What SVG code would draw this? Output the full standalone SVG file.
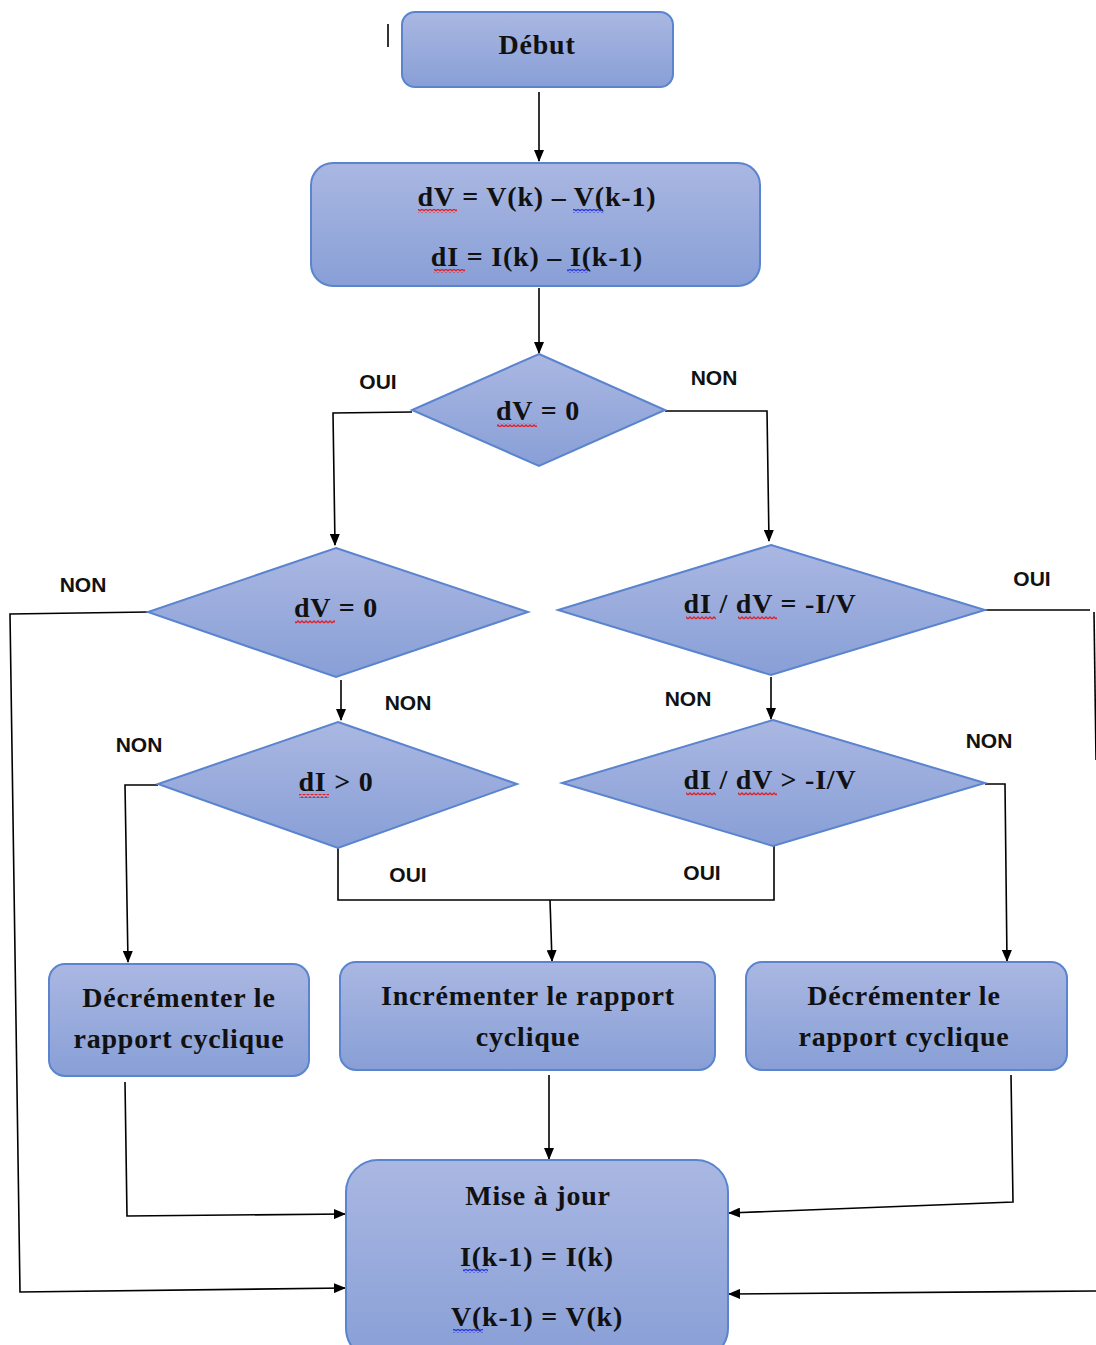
<svg xmlns="http://www.w3.org/2000/svg" width="1096" height="1345" viewBox="0 0 1096 1345">
<defs>
<linearGradient id="g" x1="0" y1="0" x2="0" y2="1">
<stop offset="0" stop-color="#aab7e2"/>
<stop offset="1" stop-color="#889fd6"/>
</linearGradient>
<marker id="a" markerWidth="12" markerHeight="10" refX="11" refY="5" orient="auto" markerUnits="userSpaceOnUse">
<path d="M0 0 L12 5 L0 10 Z" fill="#000"/>
</marker>
<pattern id="wr" width="4" height="4" patternUnits="userSpaceOnUse">
<path d="M0 3 L2 1 L4 3" fill="none" stroke="#e0202a" stroke-width="1.3"/>
</pattern>
<pattern id="wb" width="4" height="4" patternUnits="userSpaceOnUse">
<path d="M0 3 L2 1 L4 3" fill="none" stroke="#2a3ae0" stroke-width="1.3"/>
</pattern>
</defs>
<style>
.n{fill:url(#g);stroke:#5a84cf;stroke-width:2}
.t{font-family:"Liberation Serif","Times New Roman",serif;font-weight:bold;font-size:28px;letter-spacing:0.8px;fill:#111;text-anchor:middle}
.l{font-family:"Liberation Sans",Arial,sans-serif;font-weight:bold;font-size:21px;fill:#111;text-anchor:middle}
.c{fill:none;stroke:#000;stroke-width:1.6}
.ca{fill:none;stroke:#000;stroke-width:1.6;marker-end:url(#a)}
</style>
<rect width="1096" height="1345" fill="#fff"/>
<line x1="388" y1="24" x2="388" y2="47" stroke="#000" stroke-width="1.6"/>

<g id="connectors">
<path class="ca" d="M539 92 L539 161"/>
<path class="ca" d="M539 288 L539 353"/>
<path class="ca" d="M412 412 L333 413 L335 545"/>
<path class="ca" d="M665 411 L767 411 L769 541"/>
<path class="ca" d="M148 612 L10 614 L20 1292 L345 1288"/>
<path class="ca" d="M341 680 L341 720"/>
<path class="ca" d="M158 785 L125 785 L128 962"/>
<path class="c" d="M338 848 L338 900 L774 900 L774 845"/>
<path class="ca" d="M550 900 L552 961"/>
<path class="c" d="M985 610 L1090 610"/>
<path class="c" d="M1094 612 L1096 760"/>
<path class="ca" d="M771 677 L771 719"/>
<path class="ca" d="M985 784 L1005 784 L1007 961"/>
<path class="ca" d="M125 1082 L127 1216 L345 1214"/>
<path class="ca" d="M549 1075 L549 1159"/>
<path class="ca" d="M1011 1075 L1013 1202 L729 1213"/>
<path class="ca" d="M1096 1291 L729 1294"/>
</g>

<g id="labels">
<text class="l" x="378" y="389">OUI</text>
<text class="l" x="714" y="385">NON</text>
<text class="l" x="83" y="592">NON</text>
<text class="l" x="1032" y="586">OUI</text>
<text class="l" x="408" y="710">NON</text>
<text class="l" x="688" y="706">NON</text>
<text class="l" x="139" y="752">NON</text>
<text class="l" x="989" y="748">NON</text>
<text class="l" x="408" y="882">OUI</text>
<text class="l" x="702" y="880">OUI</text>
</g>

<g id="debut">
<rect class="n" x="402" y="12" width="271" height="75" rx="13"/>
<text class="t" x="537" y="54">Début</text>
</g>

<g id="calcul">
<rect class="n" x="311" y="163" width="449" height="123" rx="22"/>
<text class="t" x="537" y="206">dV = V(k) – V(k-1)</text>
<text class="t" x="537" y="266">dI = I(k) – I(k-1)</text>
<rect x="418" y="209" width="39" height="4" fill="url(#wr)"/>
<rect x="573" y="209" width="30" height="4" fill="url(#wb)"/>
<rect x="434" y="269" width="31" height="4" fill="url(#wr)"/>
<rect x="567" y="269" width="21" height="4" fill="url(#wb)"/>
</g>

<g id="test1">
<polygon class="n" points="539,354 665,410 539,466 412,410"/>
<text class="t" x="538" y="420">dV = 0</text>
<rect x="497" y="423" width="40" height="4" fill="url(#wr)"/>
</g>

<g id="test2">
<polygon class="n" points="336,548 528,612 336,677 148,612"/>
<text class="t" x="336" y="617">dV = 0</text>
<rect x="295" y="620" width="40" height="4" fill="url(#wr)"/>
</g>

<g id="test3">
<polygon class="n" points="338,722 517,784 338,848 158,784"/>
<text class="t" x="336" y="791">dI &gt; 0</text>
<rect x="299" y="794" width="30" height="4" fill="url(#wr)"/>
</g>

<g id="test4">
<polygon class="n" points="771,545 985,610 771,675 558,610"/>
<text class="t" x="770" y="613">dI / dV = -I/V</text>
<rect x="686" y="616" width="30" height="4" fill="url(#wr)"/>
<rect x="738" y="616" width="39" height="4" fill="url(#wr)"/>
</g>

<g id="test5">
<polygon class="n" points="773,720 985,783 773,846 562,783"/>
<text class="t" x="770" y="789">dI / dV &gt; -I/V</text>
<rect x="686" y="792" width="30" height="4" fill="url(#wr)"/>
<rect x="738" y="792" width="39" height="4" fill="url(#wr)"/>
</g>

<g id="decr1">
<rect class="n" x="49" y="964" width="260" height="112" rx="16"/>
<text class="t" x="179" y="1007">Décrémenter le</text>
<text class="t" x="179" y="1048">rapport cyclique</text>
</g>

<g id="incr">
<rect class="n" x="340" y="962" width="375" height="108" rx="16"/>
<text class="t" x="528" y="1005">Incrémenter le rapport</text>
<text class="t" x="528" y="1046">cyclique</text>
</g>

<g id="decr2">
<rect class="n" x="746" y="962" width="321" height="108" rx="16"/>
<text class="t" x="904" y="1005">Décrémenter le</text>
<text class="t" x="904" y="1046">rapport cyclique</text>
</g>

<g id="maj">
<rect class="n" x="346" y="1160" width="382" height="200" rx="32"/>
<text class="t" x="538" y="1205">Mise à jour</text>
<text class="t" x="537" y="1266">I(k-1) = I(k)</text>
<text class="t" x="537" y="1326">V(k-1) = V(k)</text>
<rect x="463" y="1269" width="25" height="4" fill="url(#wb)"/>
<rect x="453" y="1329" width="30" height="4" fill="url(#wb)"/>
</g>
</svg>
